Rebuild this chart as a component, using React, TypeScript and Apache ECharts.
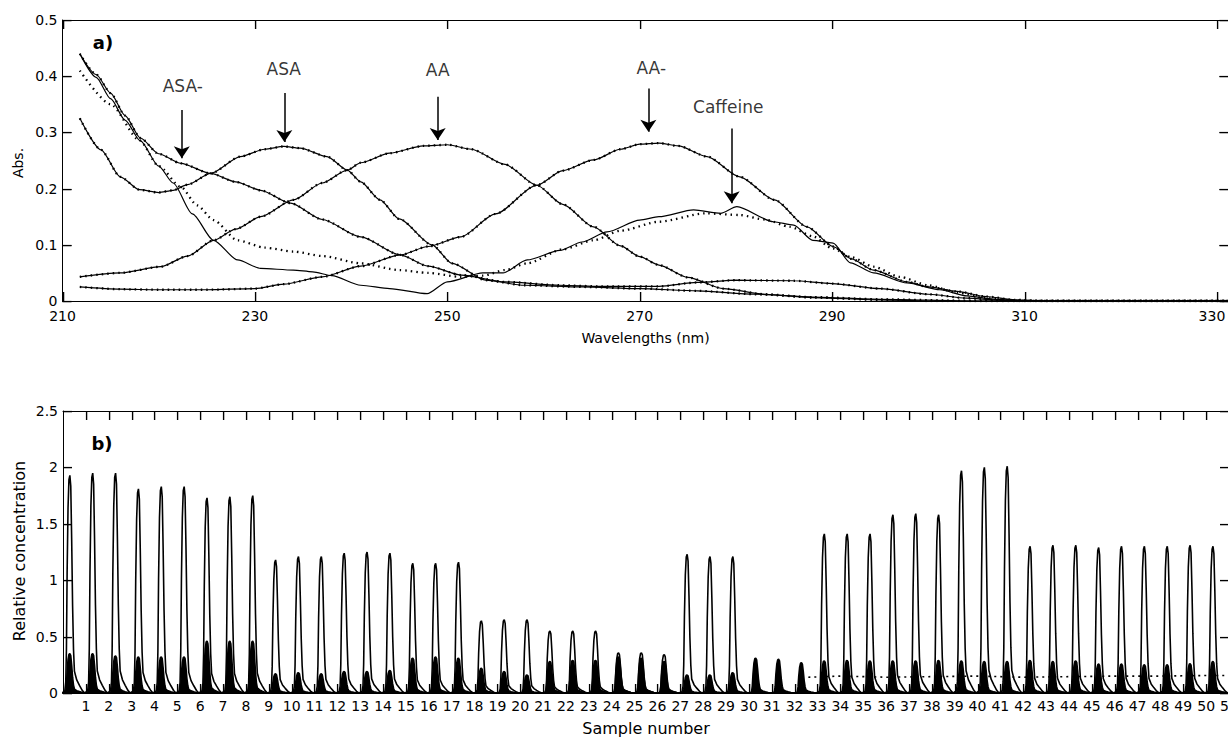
import React, { useEffect, useRef } from 'react';
import * as echarts from 'echarts';

const FONT = "'DejaVu Sans', sans-serif";

// ---------- Panel a) : spectra, [wavelength (nm), absorbance] ----------
const asaMinus = [
  [211.8, 0.44], [213.5, 0.403], [215, 0.37], [216.5, 0.33], [218.1, 0.29], [220, 0.262],
  [222.3, 0.245], [225.4, 0.227], [228, 0.212], [230.6, 0.197], [233.7, 0.174], [237, 0.145],
  [241, 0.114], [245.1, 0.082], [248, 0.062], [251.5, 0.046], [256, 0.034], [261.7, 0.028],
  [266, 0.026], [272, 0.026], [276, 0.033], [280, 0.037], [286, 0.036], [290, 0.031],
  [295, 0.022], [300, 0.012], [304, 0.005], [308, 0.001], [312, 0], [331.2, 0],
];
const asa = [
  [211.8, 0.325], [214, 0.269], [216, 0.221], [218, 0.198], [220, 0.193], [221.5, 0.197],
  [223, 0.207], [225.4, 0.227], [228.5, 0.257], [231, 0.27], [233, 0.275], [234.7, 0.272],
  [237.5, 0.257], [239.6, 0.233], [241, 0.212], [243, 0.18], [245, 0.146], [248.4, 0.1],
  [250.5, 0.067], [254, 0.037], [258, 0.028], [264, 0.025], [270, 0.022], [276, 0.018],
  [282, 0.012], [288, 0.007], [295, 0.003], [305, 0], [331.2, 0],
];
const aa = [
  [211.8, 0.043], [216, 0.05], [220.2, 0.061], [223, 0.08], [225.7, 0.108], [228, 0.128],
  [230.6, 0.15], [234, 0.18], [237, 0.21], [239.6, 0.233], [241, 0.246], [244, 0.263],
  [247.5, 0.276], [250, 0.278], [252.5, 0.27], [256, 0.243], [259.3, 0.206], [262, 0.172],
  [265.2, 0.132], [268, 0.098], [270, 0.079], [272, 0.064], [275, 0.042], [278.7, 0.022],
  [283, 0.012], [288, 0.006], [295, 0.002], [300, 0], [331.2, 0],
];
const aaMinus = [
  [211.8, 0.025], [216, 0.021], [220, 0.02], [225, 0.02], [230, 0.022], [233, 0.03],
  [237, 0.043], [241, 0.062], [245.1, 0.082], [248, 0.097], [251.4, 0.114], [255, 0.155],
  [259.3, 0.206], [262, 0.232], [265.2, 0.251], [268, 0.27], [270, 0.279], [272, 0.281],
  [274, 0.276], [277, 0.257], [280.4, 0.221], [284, 0.18], [287.4, 0.132], [290.1, 0.097],
  [292, 0.075], [294.3, 0.055], [297.8, 0.034], [300, 0.025], [303, 0.017], [306, 0.008],
  [309, 0.002], [312, 0], [331.2, 0],
];
const caffeine = [
  [211.8, 0.44], [213.5, 0.398], [215, 0.36], [216.5, 0.322], [218.1, 0.285], [220, 0.24],
  [221.5, 0.21], [223.5, 0.155], [225.7, 0.108], [228.2, 0.073], [230.6, 0.058], [234, 0.055],
  [236, 0.052], [238, 0.045], [241, 0.028], [244, 0.022], [247.9, 0.013], [250, 0.034],
  [253.7, 0.05], [255.8, 0.05], [258.3, 0.073], [261.7, 0.09], [264, 0.105], [266.6, 0.123],
  [270, 0.144], [272, 0.15], [275.6, 0.162], [278.4, 0.156], [280.1, 0.168], [283.9, 0.141],
  [286, 0.135], [288, 0.108], [290.1, 0.103], [291.9, 0.068], [294.3, 0.05], [297.8, 0.032],
  [301.2, 0.02], [304, 0.009], [307, 0.003], [310, 0], [331.2, 0],
];
const caffeineRecovered = [
  [211.8, 0.41], [215, 0.35], [218, 0.286], [220, 0.24], [222.3, 0.203], [224, 0.17],
  [225.7, 0.144], [228.2, 0.108], [231, 0.095], [234, 0.088], [237, 0.08], [241, 0.067],
  [245, 0.055], [248, 0.05], [251.4, 0.043], [253.7, 0.045], [256, 0.055], [258.3, 0.067],
  [262, 0.092], [265.2, 0.108], [268, 0.125], [272, 0.141], [276.8, 0.156], [280.4, 0.153],
  [283, 0.145], [285.6, 0.132], [288, 0.115], [290, 0.094], [292, 0.078], [294.3, 0.061],
  [297, 0.043], [300, 0.028], [303, 0.015], [306, 0.005], [309, 0], [331.2, 0],
];

const annotationNames = ['ASA-', 'ASA', 'AA', 'AA-', 'Caffeine'];
const annotationTextWavelengths = [222.5, 233.0, 249.0, 271.2, 279.2];
const annotationTextAbs = [0.382, 0.413, 0.411, 0.415, 0.346];
const arrowWavelengths = [222.4, 233.06, 249.0, 270.9, 279.56];
const arrowStartAbs = [0.34, 0.37, 0.3635, 0.378, 0.307];
const arrowEndAbs = [0.254, 0.283, 0.2865, 0.301, 0.174];

const xRangeA = [210, 331.2];
const yRangeA = [0, 0.5];
const xTicksA = [210, 230, 250, 270, 290, 310, 330];
const yTicksA = [0, 0.1, 0.2, 0.3, 0.4, 0.5];

// ---------- Panel b) : concentration profiles ----------
const sampleNumbers = [
  1, 2, 3, 4, 5, 6, 7, 8, 9, 10, 11, 12, 13, 14, 15, 16, 17, 18, 19, 20, 21, 22, 23, 24, 25,
  26, 27, 28, 29, 30, 31, 32, 33, 34, 35, 36, 37, 38, 39, 40, 41, 42, 43, 44, 45, 46, 47, 48,
  49, 50, 51,
];
const xRangeB = [0, 51];
const yRangeB = [0, 2.5];
const yTicksB = [0, 0.5, 1, 1.5, 2, 2.5];
const majorPeakHeights = [
  1.93, 1.95, 1.95, 1.81, 1.83, 1.83, 1.73, 1.74, 1.75,
  1.18, 1.21, 1.21, 1.24, 1.25, 1.24, 1.15, 1.15, 1.16,
  0.64, 0.65, 0.65, 0.55, 0.55, 0.55, 0.357, 0.357, 0.34,
  1.23, 1.21, 1.21, 0, 0, 0,
  1.41, 1.41, 1.41, 1.58, 1.59, 1.58, 1.97, 2.0, 2.01,
  1.3, 1.31, 1.31, 1.29, 1.3, 1.3, 1.3, 1.31, 1.3,
];
const minorPeakHeights = [
  0.35, 0.35, 0.33, 0.32, 0.32, 0.32, 0.46, 0.46, 0.46,
  0.17, 0.18, 0.17, 0.19, 0.19, 0.2, 0.31, 0.32, 0.31,
  0.22, 0.19, 0.16, 0.28, 0.29, 0.29, 0.32, 0.31, 0.28,
  0.16, 0.16, 0.18, 0.31, 0.3, 0.27,
  0.285, 0.29, 0.285, 0.285, 0.285, 0.29, 0.285, 0.28, 0.28,
  0.29, 0.28, 0.285, 0.257, 0.257, 0.25, 0.25, 0.26, 0.28,
];
// apex position inside each sample window, and the normalised peak profile
const peakLag = 0.3;
const profileOffsets = [-0.34, -0.22, -0.18, -0.15, -0.12, -0.08, -0.04, 0, 0.04, 0.08, 0.12, 0.16, 0.2, 0.3, 0.42, 0.54, 0.64];
const profileShape = [0, 0.01, 0.05, 0.2, 0.55, 0.85, 0.98, 1, 0.95, 0.7, 0.4, 0.2, 0.1, 0.06, 0.035, 0.012, 0];
const driftPositions = [32.6, 34, 36, 38, 40, 42, 44, 46, 48, 50, 51];
const driftValues = [0.14, 0.15, 0.14, 0.145, 0.15, 0.14, 0.145, 0.15, 0.15, 0.155, 0.155];

// ---------- layout ----------
const GRID_A = { left: 62.5, top: 20, width: 1166, height: 281 };
const GRID_B = { left: 63, top: 411, width: 1166, height: 282 };
const TICK_PX = 9;

function buildProfile(heights: number[]) {
  const out: number[][] = [];
  sampleNumbers.forEach((s, i) => {
    profileOffsets.forEach((o, j) => {
      out.push([s - 1 + peakLag + o, heights[i] * profileShape[j]]);
    });
  });
  return out;
}

// inward (MATLAB-style) ticks on all four sides: side 0 bottom, 1 top, 2 left, 3 right
function tickSeries(axisIndex: number, xVals: number[], yVals: number[], xr: number[], yr: number[]) {
  const data: number[][] = [];
  xVals.forEach((v) => {
    data.push([v, yr[0], 0]);
    data.push([v, yr[1], 1]);
  });
  yVals.forEach((v) => {
    data.push([xr[0], v, 2]);
    data.push([xr[1], v, 3]);
  });
  return {
    type: 'custom',
    xAxisIndex: axisIndex,
    yAxisIndex: axisIndex,
    silent: true,
    clip: false,
    z: 20,
    encode: { x: 0, y: 1 },
    data,
    renderItem: (_params: any, api: any) => {
      const p = api.coord([api.value(0), api.value(1)]);
      const side = api.value(2);
      const dx = side === 2 ? TICK_PX : side === 3 ? -TICK_PX : 0;
      const dy = side === 0 ? -TICK_PX : side === 1 ? TICK_PX : 0;
      const x = dx === 0 ? Math.round(p[0]) + 0.5 : p[0];
      const y = dy === 0 ? Math.round(p[1]) + 0.5 : p[1];
      return {
        type: 'line',
        shape: { x1: x, y1: y, x2: x + dx, y2: y + dy },
        style: { stroke: '#000', lineWidth: 1.2 },
      };
    },
  };
}

// the same box ticks as plain graphic rectangles, mapped with the panels' linear scales
function tickRects(grid: any, xVals: number[], yVals: number[], xr: number[], yr: number[]) {
  const px = (v: number) => grid.left + ((v - xr[0]) / (xr[1] - xr[0])) * grid.width;
  const py = (v: number) => grid.top + ((yr[1] - v) / (yr[1] - yr[0])) * grid.height;
  const left = grid.left;
  const right = grid.left + grid.width;
  const top = grid.top;
  const bottom = grid.top + grid.height;
  const els: any[] = [];
  const rect = (x: number, y: number, w: number, h: number) =>
    els.push({ type: 'rect', silent: true, z: 100, shape: { x, y, width: w, height: h }, style: { fill: '#000' } });
  xVals.forEach((v) => {
    const x = Math.round(px(v));
    rect(x, bottom - TICK_PX, 1.2, TICK_PX);
    rect(x, top, 1.2, TICK_PX);
  });
  yVals.forEach((v) => {
    const y = Math.round(py(v));
    rect(left, y, TICK_PX, 1.2);
    rect(right - TICK_PX, y, TICK_PX, 1.2);
  });
  return els;
}

const axisLineStyle = { color: '#000', width: 1 };
const labelStyle = { color: '#000', fontSize: 14, fontFamily: FONT };

function spectrum(data: number[][], dotted: boolean) {
  return {
    type: 'line',
    xAxisIndex: 0,
    yAxisIndex: 0,
    data,
    showSymbol: false,
    symbol: 'none',
    smooth: 0.25,
    smoothMonotone: 'x',
    silent: true,
    lineStyle: dotted
      ? { color: '#000', width: 2.3, type: [1.5, 4] }
      : { color: '#000', width: 1.2, type: 'solid' },
    z: dotted ? 3 : 2,
  };
}

function valueAxis(extra: any) {
  return {
    type: 'value',
    axisLine: { show: true, onZero: false, lineStyle: axisLineStyle },
    axisTick: { show: false },
    splitLine: { show: false },
    ...extra,
  };
}

const textGraphics = [
  {
    type: 'text', x: 18, y: 163, rotation: Math.PI / 2,
    style: { text: 'Abs.', fontSize: 14, fontFamily: FONT, fill: '#000', align: 'center', verticalAlign: 'middle', textAlign: 'center', textVerticalAlign: 'middle' },
  },
  {
    type: 'text', x: 19, y: 551, rotation: Math.PI / 2,
    style: { text: 'Relative concentration', fontSize: 16, fontFamily: FONT, fill: '#000', align: 'center', verticalAlign: 'middle', textAlign: 'center', textVerticalAlign: 'middle' },
  },
  {
    type: 'text', x: 103, y: 42,
    style: { text: 'a)', fontSize: 18, fontWeight: 'bold', fontFamily: FONT, fill: '#000', align: 'center', verticalAlign: 'middle', textAlign: 'center', textVerticalAlign: 'middle' },
  },
  {
    type: 'text', x: 102, y: 443,
    style: { text: 'b)', fontSize: 18, fontWeight: 'bold', fontFamily: FONT, fill: '#000', align: 'center', verticalAlign: 'middle', textAlign: 'center', textVerticalAlign: 'middle' },
  },
];

function buildOption() {
  const lastWave = xTicksA[xTicksA.length - 1];
  return {
    animation: false,
    backgroundColor: '#fff',
    textStyle: { fontFamily: FONT },
    grid: [
      { ...GRID_A, outerBoundsMode: 'none', containLabel: false },
      { ...GRID_B, outerBoundsMode: 'none', containLabel: false },
    ],
    xAxis: [
      valueAxis({
        gridIndex: 0, min: xRangeA[0], max: xRangeA[1], interval: 20, position: 'bottom',
        axisLabel: {
          ...labelStyle, margin: 8,
          formatter: (v: number) => (v === lastWave ? `{e|${v}}` : xTicksA.indexOf(v) >= 0 ? String(v) : ''),
          rich: { e: { ...labelStyle, padding: [0, 10, 0, 0] } },
        },
        name: 'Wavelengths (nm)', nameLocation: 'middle', nameGap: 30,
        nameTextStyle: { color: '#000', fontSize: 14, fontFamily: FONT },
      }),
      valueAxis({ gridIndex: 0, min: xRangeA[0], max: xRangeA[1], interval: 20, position: 'top', axisLabel: { show: false } }),
      valueAxis({
        gridIndex: 1, min: xRangeB[0], max: xRangeB[1], interval: 1, position: 'bottom',
        axisLine: { show: true, onZero: false, lineStyle: { color: '#000', width: 2 } },
        axisLabel: {
          ...labelStyle, margin: 6,
          formatter: (v: number) => (sampleNumbers.indexOf(v) >= 0 ? String(v) : ''),
        },
        name: 'Sample number', nameLocation: 'middle', nameGap: 27,
        nameTextStyle: { color: '#000', fontSize: 16, fontFamily: FONT },
      }),
      valueAxis({ gridIndex: 1, min: xRangeB[0], max: xRangeB[1], interval: 1, position: 'top', axisLabel: { show: false } }),
    ],
    yAxis: [
      valueAxis({
        gridIndex: 0, min: yRangeA[0], max: yRangeA[1], interval: 0.1, position: 'left',
        axisLabel: { ...labelStyle, margin: 5, formatter: (v: number) => String(yTicksA[Math.round(v * 10)]) },
      }),
      valueAxis({ gridIndex: 0, min: yRangeA[0], max: yRangeA[1], interval: 0.1, position: 'right', axisLabel: { show: false } }),
      valueAxis({
        gridIndex: 1, min: yRangeB[0], max: yRangeB[1], interval: 0.5, position: 'left',
        axisLabel: { ...labelStyle, margin: 5 },
      }),
      valueAxis({ gridIndex: 1, min: yRangeB[0], max: yRangeB[1], interval: 0.5, position: 'right', axisLabel: { show: false } }),
    ],
    series: [
      spectrum(asaMinus, false), spectrum(asaMinus, true),
      spectrum(asa, false), spectrum(asa, true),
      spectrum(aa, false), spectrum(aa, true),
      spectrum(aaMinus, false), spectrum(aaMinus, true),
      spectrum(caffeine, false), spectrum(caffeineRecovered, true),
      {
        type: 'scatter',
        xAxisIndex: 0,
        yAxisIndex: 0,
        silent: true,
        symbolSize: 1,
        itemStyle: { color: 'transparent' },
        data: annotationNames.map((n, i) => [annotationTextWavelengths[i], annotationTextAbs[i], n]),
        label: {
          show: true, position: 'inside', color: '#000', fontSize: 17, fontFamily: FONT,
          formatter: (p: any) => p.data[2],
        },
        markLine: {
          silent: true,
          symbol: ['none', 'arrow'],
          symbolSize: 12,
          label: { show: false },
          lineStyle: { color: '#000', width: 1.5, type: 'solid' },
          data: annotationNames.map((_, i) => [
            { coord: [arrowWavelengths[i], arrowStartAbs[i]] },
            { coord: [arrowWavelengths[i], arrowEndAbs[i]] },
          ]),
        },
        z: 5,
      },
      tickSeries(0, xTicksA, yTicksA, xRangeA, yRangeA),
      {
        type: 'line', xAxisIndex: 2, yAxisIndex: 2, data: buildProfile(majorPeakHeights),
        showSymbol: false, symbol: 'none', silent: true,
        lineStyle: { color: '#000', width: 1.6 }, z: 2,
      },
      {
        type: 'line', xAxisIndex: 2, yAxisIndex: 2, data: buildProfile(minorPeakHeights),
        showSymbol: false, symbol: 'none', silent: true,
        lineStyle: { color: '#000', width: 1.6 },
        areaStyle: { color: '#000', opacity: 1 }, z: 3,
      },
      {
        type: 'line', xAxisIndex: 2, yAxisIndex: 2,
        data: driftPositions.map((p, i) => [p, driftValues[i]]),
        showSymbol: false, symbol: 'none', silent: true,
        lineStyle: { color: '#000', width: 1.6, type: [2, 4] }, z: 4,
      },
      tickSeries(2, sampleNumbers, yTicksB, xRangeB, yRangeB),
    ],
    graphic: [
      ...textGraphics,
      ...tickRects(GRID_A, xTicksA, yTicksA, xRangeA, yRangeA),
      ...tickRects(GRID_B, sampleNumbers, yTicksB, xRangeB, yRangeB),
    ],
  };
}

export default function App() {
  const ref = useRef<HTMLDivElement>(null);
  useEffect(() => {
    const chart = echarts.init(ref.current as HTMLDivElement, undefined, { renderer: 'svg' });
    chart.setOption(buildOption() as any);
    return () => chart.dispose();
  }, []);
  return (
    <div
      ref={ref}
      style={{ position: 'fixed', left: 0, top: 0, width: 1228, height: 738, background: '#fff' }}
    />
  );
}
